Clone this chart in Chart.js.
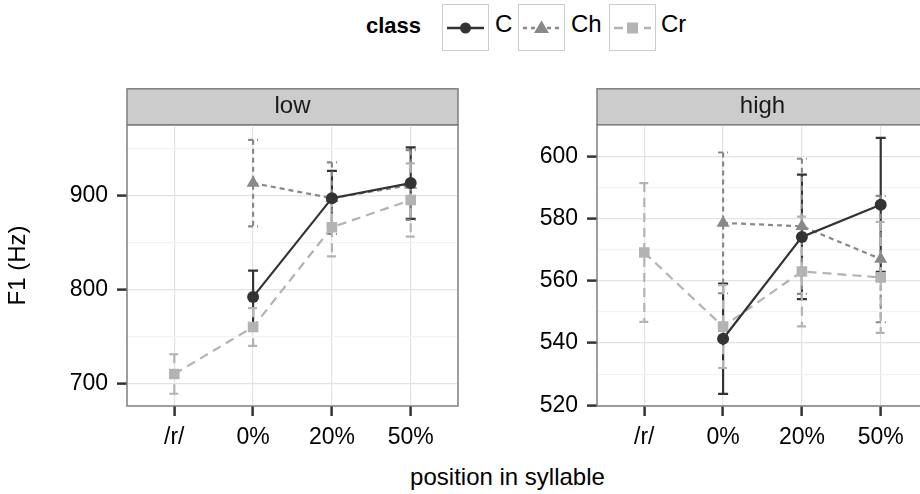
<!DOCTYPE html>
<html>
<head>
<meta charset="utf-8">
<script src="https://cdn.jsdelivr.net/npm/chart.js@4.4.1/dist/chart.umd.min.js"></script>
<style>
html, body { margin: 0; padding: 0; background: #fff; overflow: hidden; }
#wrap { position: relative; width: 920px; height: 494px; overflow: hidden;
        font-family: "Liberation Sans", Arial, sans-serif; color: #000; }
.panel { position: absolute; top: 60px; width: 470px; height: 400px; }
.lg { position: absolute; white-space: nowrap; }
.key { position: absolute; top: 4px; width: 45px; height: 45px; border: 1.5px solid #cccccc; }
#xtitle { position: absolute; left: 0; width: 1015px; top: 463px; text-align: center;
          font-size: 24px; line-height: 28px; }
</style>
</head>
<body>
<div id="wrap">
  <div class="lg" style="left:366px;top:13px;font-size:22px;font-weight:bold;">class</div>
  <svg class="key" style="left:442px" viewBox="0 0 45 45">
    <line x1="4" y1="23" x2="41" y2="23" stroke="#333333" stroke-width="2.4"/>
    <circle cx="22.5" cy="23" r="5.5" fill="#333333"/>
  </svg>
  <div class="lg" style="left:495px;top:10px;font-size:24px;">C</div>
  <svg class="key" style="left:518px" viewBox="0 0 45 45">
    <line x1="4" y1="23" x2="41" y2="23" stroke="#888888" stroke-width="2.4" stroke-dasharray="4 4"/>
    <path d="M22.5 15.5 L30 28 L15 28 Z" fill="#888888"/>
  </svg>
  <div class="lg" style="left:571px;top:10px;font-size:24px;">Ch</div>
  <svg class="key" style="left:609px" viewBox="0 0 45 45">
    <line x1="4" y1="23" x2="41" y2="23" stroke="#b3b3b3" stroke-width="2.4" stroke-dasharray="9 6"/>
    <rect x="17" y="17.5" width="11" height="11" fill="#b3b3b3"/>
  </svg>
  <div class="lg" style="left:661px;top:10px;font-size:24px;">Cr</div>

  <div class="panel" style="left:0px"><canvas id="lowChart" width="470" height="400"></canvas></div>
  <div class="panel" style="left:470px"><canvas id="highChart" width="470" height="400"></canvas></div>
  <div id="xtitle">position in syllable</div>
</div>
<script>
(function() {
// categories on the x axis
const positions = ['/r/', '0%', '20%', '50%'];
const classes = ['C', 'Ch', 'Cr'];

// "low" panel: mean F1 and error half-width per position
const lowC = [null, 792, 897, 913];
const lowCErr = [null, 28, 29, 38];
const lowCh = [null, 913, 897, 911];
const lowChErr = [null, 46, 38, 37];
const lowCr = [710, 760, 866, 895];
const lowCrErr = [21, 20, 31, 39];

// "high" panel
const highC = [null, 541.4, 574.1, 584.4];
const highCErr = [null, 17.7, 20, 21.5];
const highCh = [null, 578.6, 577.5, 567];
const highChErr = [null, 22.6, 21.7, 20.3];
const highCr = [569.1, 545.3, 563, 561.1];
const highCrErr = [22.3, 13.3, 17.6, 17.8];

// y ticks (every other one is a minor grid line)
const lowTicks = [700, 750, 800, 850, 900, 950];
const highTicks = [520, 530, 540, 550, 560, 570, 580, 590, 600, 610];

const styles = {
    C:  { color: '#333333', dash: [],     shape: 'circle',   radius: 6 },
    Ch: { color: '#888888', dash: [5, 4], shape: 'triangle', radius: 7.5 },
    Cr: { color: '#b3b3b3', dash: [9, 6], shape: 'rect',     radius: 7.5 }
};

Chart.defaults.font.family = '"Liberation Sans", Arial, sans-serif';
Chart.defaults.color = '#000';

function toPoints(values, errs) {
    const pts = [];
    values.forEach((v, i) => {
        if (v !== null) pts.push({ x: i, y: v, e: errs[i] });
    });
    return pts;
}

// error bars, strip box and panel frame
const facetPlugin = {
    id: 'facet',
    beforeDraw(chart) {
        const { ctx, chartArea: a } = chart;
        ctx.save();
        ctx.fillStyle = '#cccccc';
        ctx.strokeStyle = '#7f7f7f';
        ctx.lineWidth = 1.5;
        ctx.fillRect(a.left, a.top - 36, a.right - a.left, 36);
        ctx.strokeRect(a.left, a.top - 36, a.right - a.left, 36);
        ctx.restore();
    },
    beforeDatasetsDraw(chart) {
        const { ctx, chartArea: a, scales } = chart;
        ctx.save();
        ctx.beginPath();
        ctx.rect(a.left, a.top, a.right - a.left, a.bottom - a.top);
        ctx.clip();
        chart.data.datasets.forEach(ds => {
            ctx.strokeStyle = ds.borderColor;
            ctx.lineWidth = 2.2;
            ctx.setLineDash(ds.borderDash);
            ds.data.forEach(p => {
                const px = scales.x.getPixelForValue(p.x);
                const top = scales.y.getPixelForValue(p.y + p.e);
                const bot = scales.y.getPixelForValue(p.y - p.e);
                ctx.beginPath();
                ctx.moveTo(px - 5, top); ctx.lineTo(px + 5, top);
                ctx.moveTo(px, top); ctx.lineTo(px, bot);
                ctx.moveTo(px - 5, bot); ctx.lineTo(px + 5, bot);
                ctx.stroke();
            });
        });
        ctx.restore();
    },
    afterDraw(chart) {
        const { ctx, chartArea: a } = chart;
        ctx.save();
        ctx.strokeStyle = '#7f7f7f';
        ctx.lineWidth = 1.5;
        ctx.strokeRect(a.left, a.top, a.right - a.left, a.bottom - a.top);
        ctx.restore();
    }
};

function makePanel(id, title, series, yMin, yMax, yTicks, major, yTitle) {
    return new Chart(document.getElementById(id), {
        type: 'line',
        data: {
            datasets: series.map((s, k) => {
                const st = styles[classes[k]];
                return {
                    label: classes[k],
                    data: toPoints(s[0], s[1]),
                    borderColor: st.color,
                    backgroundColor: st.color,
                    borderWidth: 2.2,
                    borderDash: st.dash,
                    pointStyle: st.shape,
                    pointRadius: st.radius,
                    pointBorderWidth: 0,
                    tension: 0
                };
            })
        },
        options: {
            responsive: false,
            animation: false,
            layout: { padding: { top: 29, right: 12, bottom: 0, left: 0 } },
            plugins: {
                legend: { display: false },
                tooltip: { enabled: false },
                title: {
                    display: true, text: title, fullSize: false, color: '#1a1a1a',
                    font: { size: 24, weight: 'normal', lineHeight: 1.2 },
                    padding: { top: 3, bottom: 4 }
                }
            },
            scales: {
                x: {
                    type: 'linear', min: -0.6, max: 3.6,
                    afterBuildTicks: s => { s.ticks = positions.map((_, i) => ({ value: i })); },
                    afterFit: s => { s.height = 54; },
                    ticks: { callback: v => positions[v], font: { size: 23 }, padding: 8,
                             autoSkip: false, maxRotation: 0 },
                    grid: { color: '#e3e3e3', lineWidth: 1.2, tickColor: '#333333',
                            tickLength: 10, tickWidth: 2.5 },
                    border: { display: false }
                },
                y: {
                    min: yMin, max: yMax,
                    afterBuildTicks: s => { s.ticks = yTicks.map(v => ({ value: v })); },
                    afterFit: s => { s.width = 127; },
                    ticks: { callback: v => (v % major === 0 ? v : ''), font: { size: 23 }, padding: 9 },
                    grid: {
                        color: c => (c.tick && c.tick.value % major === 0 ? '#e3e3e3' : '#f3f3f3'),
                        lineWidth: 1.2,
                        tickColor: c => (c.tick && c.tick.value % major === 0 ? '#333333' : 'rgba(0,0,0,0)'),
                        tickLength: 10, tickWidth: 2.5
                    },
                    border: { display: false },
                    title: { display: !!yTitle, text: yTitle || '', font: { size: 24 },
                             padding: { top: 4, bottom: 0 } }
                }
            }
        },
        plugins: [facetPlugin]
    });
}

makePanel('lowChart', 'low',
    [[lowC, lowCErr], [lowCh, lowChErr], [lowCr, lowCrErr]],
    676, 975, lowTicks, 100, 'F1 (Hz)');
makePanel('highChart', 'high',
    [[highC, highCErr], [highCh, highChErr], [highCr, highCrErr]],
    519.8, 610.1, highTicks, 20, null);
})();
</script>
</body>
</html>
